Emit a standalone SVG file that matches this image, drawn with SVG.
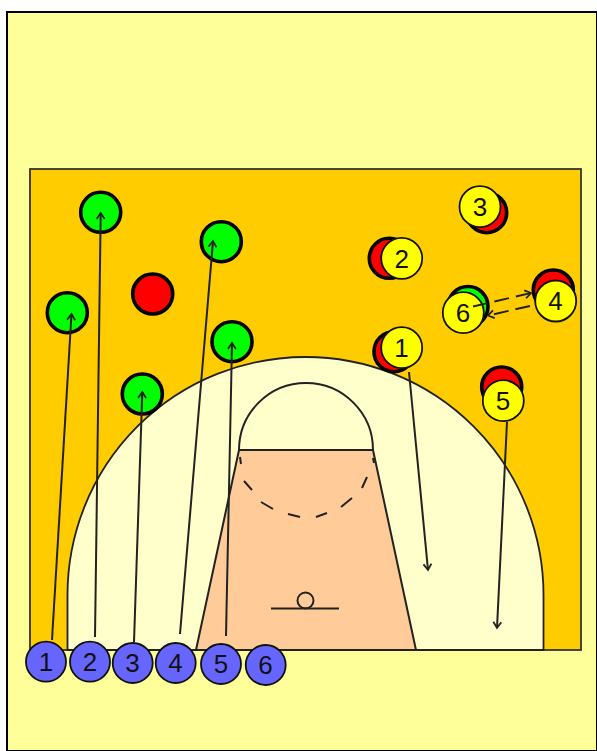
<svg xmlns="http://www.w3.org/2000/svg" width="597" height="751" viewBox="0 0 597 751">
<style>
.ln{fill:none;stroke:#222;stroke-width:2}
.ar{fill:none;stroke:#222;stroke-width:2;marker-end:url(#a)}
.d{stroke-dasharray:15 7}
.p{stroke:#000;stroke-width:3.6}
.u{stroke:#111;stroke-width:1.8}
.g{fill:#00FF00}.r{fill:#FF0000}.y{fill:#FFFF00}.b{fill:#6666FF}
text{font-family:"Liberation Sans",Arial,sans-serif;font-size:26px;fill:#111;text-anchor:middle;dominant-baseline:central}
</style>
<defs>
<marker id="a" markerUnits="userSpaceOnUse" markerWidth="16" markerHeight="16" refX="7" refY="5" orient="auto" overflow="visible">
<path d="M1 1L7 5L1 9" fill="none" stroke="#222" stroke-width="1.8"/>
</marker>
</defs>
<rect width="597" height="751" fill="#fff"/>
<path id="page" d="M7 751V12H597V751Z" fill="#FFFF99" stroke="#000" stroke-width="2"/>
<g id="court">
<rect x="30" y="169" width="551" height="481" fill="#FFCC00" stroke="#333" stroke-width="1.8"/>
<path d="M67.500 650V595A238 238 0 0 1 543.500 595V650Z" fill="#FFFFCC" stroke="#222" stroke-width="1.8"/>
<path d="M239 450L196 650H416L373 450Z" fill="#FFCC99" stroke="#222" stroke-width="2"/>
<path class="ln" d="M239 450A67 67 0 0 1 373 450"/>
<path class="ln" d="M239 450H373"/>
<path class="ln" d="M240 457L241 464M244 481L252 490M261 502L273 509M288 514L300 517M316 517L327 513M341 507L352 498M362 488L367 477M373 458L374 463"/>
<path class="ln" d="M271 608.500H339"/>
<circle class="ln" cx="305.500" cy="600.500" r="8"/>
</g>
<g id="pl1"><circle class="p g" cx="100.700" cy="212.300" r="20"/></g>
<g id="pl2"><circle class="p g" cx="67.300" cy="312.700" r="20"/></g>
<g id="pl3"><circle class="p g" cx="142.300" cy="394" r="20"/></g>
<g id="pl4"><circle class="p g" cx="221.300" cy="241.700" r="20"/></g>
<g id="pl5"><circle class="p g" cx="232" cy="341.700" r="20"/></g>
<g id="pl6"><circle class="p r" cx="152.700" cy="294" r="20"/></g>
<g id="o3"><circle class="p r" cx="486.700" cy="212.700" r="20"/><circle class="u y" cx="480" cy="206.700" r="20.500"/><text x="480" y="207">3</text></g>
<g id="o2"><circle class="p r" cx="389.300" cy="258.300" r="20"/><circle class="u y" cx="401.700" cy="258.300" r="20.500"/><text x="401.700" y="258.500">2</text></g>
<g id="o6"><circle class="p g" cx="468" cy="306.500" r="20"/><circle class="u y" cx="463.300" cy="312.700" r="20.500"/><text x="463" y="313">6</text></g>
<g id="o4"><circle class="p r" cx="553.300" cy="290" r="20"/><circle class="u y" cx="555.700" cy="301" r="20.500"/><text x="555.500" y="301">4</text></g>
<g id="o1"><circle class="p r" cx="394" cy="351.700" r="20"/><circle class="u y" cx="401.700" cy="347.700" r="20.500"/><text x="401.500" y="348">1</text></g>
<g id="o5"><circle class="p r" cx="501.700" cy="387" r="20"/><circle class="u y" cx="503.300" cy="400.700" r="20.500"/><text x="503" y="401">5</text></g>
<g id="connectors">
<path class="ar" d="M52 640L71.500 314"/>
<path class="ar" d="M95 637L100.700 213"/>
<path class="ar" d="M134 642L142.300 392"/>
<path class="ar" d="M180 634L213 241"/>
<path class="ar" d="M226 636L232 343"/>
<path class="ar" d="M409 372L428 570"/>
<path class="ar" d="M507 422L497 628"/>
<path class="ar d" d="M473 306.500L531 293"/>
<path class="ar d" d="M530 306L488 315.500"/>
</g>
<g id="s1"><circle class="u b" cx="46" cy="661.700" r="20"/><text x="46" y="662">1</text></g>
<g id="s2"><circle class="u b" cx="90" cy="661.700" r="20"/><text x="90" y="662">2</text></g>
<g id="s3"><circle class="u b" cx="132.700" cy="663" r="20"/><text x="132.500" y="663">3</text></g>
<g id="s4"><circle class="u b" cx="175.700" cy="663" r="20"/><text x="175.500" y="663">4</text></g>
<g id="s5"><circle class="u b" cx="221" cy="664" r="20"/><text x="221" y="664">5</text></g>
<g id="s6"><circle class="u b" cx="265.700" cy="665" r="20"/><text x="265.500" y="665">6</text></g>
</svg>
